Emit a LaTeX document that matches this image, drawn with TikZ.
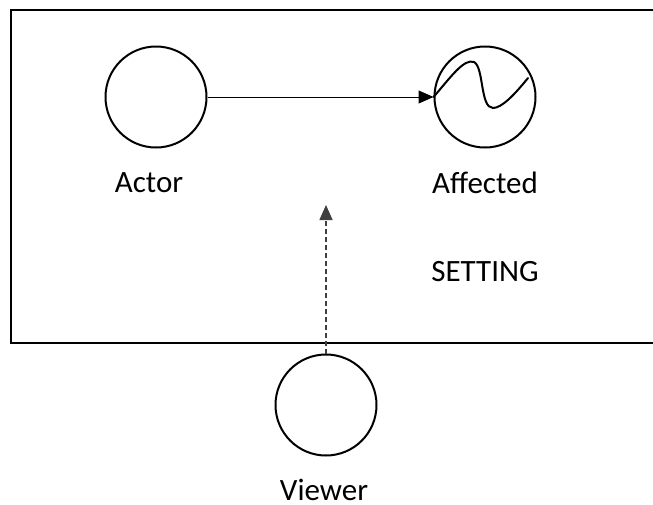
\documentclass[tikz,border=0pt]{standalone}
\usepackage{fontspec}
\setmainfont{Carlito}
\usetikzlibrary{arrows.meta, positioning}

\begin{document}
\begin{tikzpicture}[x=1pt, y=-1pt, node distance=226pt, >={Triangle[length=15pt,width=13pt]}]
\tikzstyle{agent} = [circle, draw, line width=2pt, minimum size=101pt, inner sep=0pt]
\tikzstyle{lbl} = [font=\fontsize{31}{36}\selectfont, inner sep=0pt]
\tikzstyle{arrow} = [->, line width=1pt]
\tikzstyle{gazearrow} = [->, line width=1.5pt, draw=black!75, dash pattern=on 5pt off 3pt]

\useasboundingbox (0,0) rectangle (653,504);
\draw[line width=2pt] (10.5,10) rectangle (670,343);

\node[agent] (actor) at (156,97) {};
\node[agent, right=of actor] (affected) {};
\node[agent] (viewer) at (326,405) {};

\node[lbl] (actorlbl) at (149,183) {Actor};
\node[lbl] (affectedlbl) at (485,183) {Affected};
\node[lbl] (setting) at (485,272) {SETTING};
\node[lbl] (viewerlbl) at (324,490) {Viewer};

\coordinate (gaze) at (326,205);

\draw[arrow] (actor) -- (affected);
\draw[gazearrow] (viewer.north) -- (gaze);

% wave inside the affected one
\draw[line width=2pt, line cap=round] (affected.west) .. controls (450,78) and (464,58) .. (474,62)
  .. controls (484,67) and (480,108) .. (493,108) .. controls (502,108) and (515,94) .. (528,78);
\end{tikzpicture}
\end{document}
